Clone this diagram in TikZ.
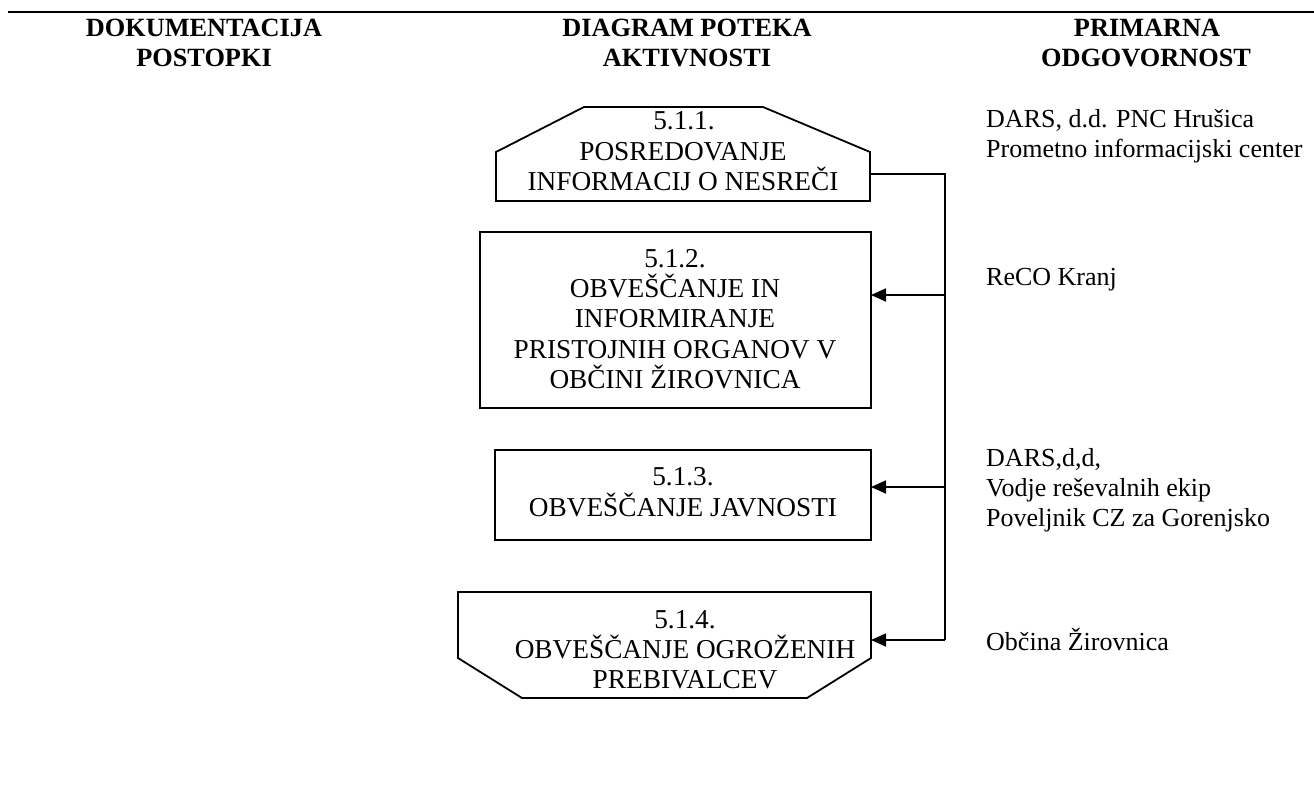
\documentclass[tikz,border=0pt]{standalone}
\usepackage{fontspec}
\setmainfont{Liberation Serif}
\usetikzlibrary{arrows.meta}
\tikzset{
  txt/.style={font=\fontsize{27.3}{30}\selectfont, inner sep=0pt, anchor=base},
  hdr/.style={font=\fontsize{26.3}{30}\selectfont\bfseries, inner sep=0pt, anchor=base},
  rtxt/.style={font=\fontsize{26}{30}\selectfont, inner sep=0pt, anchor=base west},
  shp/.style={draw, line width=1.8pt, line join=miter},
  conn/.style={draw, line width=1.8pt},
  arr/.style={conn, -{Triangle[length=15pt,width=13pt]}},
}
\begin{document}
\begin{tikzpicture}[x=1pt,y=-1pt]
\useasboundingbox (0,0) rectangle (1314,805);
% top rule
\coordinate (rl) at (8,12);
\coordinate (rr) at (1314,12);
\draw[line width=2.3pt] (rl) -- (rr);
% headers
\node[hdr] (h1a) at (204,37) {DOKUMENTACIJA};
\node[hdr] (h1b) at (204,67) {POSTOPKI};
\node[hdr] (h2a) at (687,37) {DIAGRAM POTEKA};
\node[hdr] (h2b) at (687,67) {AKTIVNOSTI};
\node[hdr] (h3a) at (1147,37) {PRIMARNA};
\node[hdr] (h3b) at (1146,67) {ODGOVORNOST};
% box 1
\draw[shp] (496,201) -- (496,152) -- (584,107) -- (763,107) -- (870,152) -- (870,201) -- cycle;
\coordinate (b1e) at (870,174);
\node[txt] (t1a) at (684,130) {5.1.1.};
\node[txt] (t1b) at (683,161) {POSREDOVANJE};
\node[txt] (t1c) at (683,191) {INFORMACIJ O NESREČI};
% box 2
\draw[shp] (480,232) rectangle (871,408);
\coordinate (b2e) at (871,295);
\node[txt] (t2a) at (675,267) {5.1.2.};
\node[txt] (t2b) at (675,297) {OBVEŠČANJE IN};
\node[txt] (t2c) at (675,327) {INFORMIRANJE};
\node[txt] (t2d) at (675,358) {PRISTOJNIH ORGANOV V};
\node[txt] (t2e) at (675,388) {OBČINI ŽIROVNICA};
% box 3
\draw[shp] (495,450) rectangle (871,540);
\coordinate (b3e) at (871,487);
\node[txt] (t3a) at (683,485) {5.1.3.};
\node[txt] (t3b) at (683,516) {OBVEŠČANJE JAVNOSTI};
% box 4
\draw[shp] (458,592) -- (871,592) -- (871,658) -- (807,698) -- (522,698) -- (458,658) -- cycle;
\coordinate (b4e) at (871,640);
\node[txt] (t4a) at (685,628) {5.1.4.};
\node[txt] (t4b) at (685,658) {OBVEŠČANJE OGROŽENIH};
\node[txt] (t4c) at (685,688) {PREBIVALCEV};
% connectors
\coordinate (j1) at (945,174);
\coordinate (j2) at (945,295);
\coordinate (j3) at (945,487);
\coordinate (j4) at (945,640);
\draw[conn] (b1e) -- (j1) -- (j4);
\draw[arr] (j2) -- (b2e);
\draw[arr] (j3) -- (b3e);
\draw[arr] (j4) -- (b4e);
% responsibilities
\node[rtxt] (r1a) at (986,128) {DARS, d.d. PNC Hrušica};
\node[rtxt] (r1b) at (986,158) {Prometno informacijski center};
\node[rtxt] (r2) at (986,285) {ReCO Kranj};
\node[rtxt] (r3a) at (986,466) {DARS,d,d,};
\node[rtxt] (r3b) at (986,496) {Vodje reševalnih ekip};
\node[rtxt] (r3c) at (986,526) {Poveljnik CZ za Gorenjsko};
\node[rtxt] (r4) at (986,650) {Občina Žirovnica};
\end{tikzpicture}
\end{document}
